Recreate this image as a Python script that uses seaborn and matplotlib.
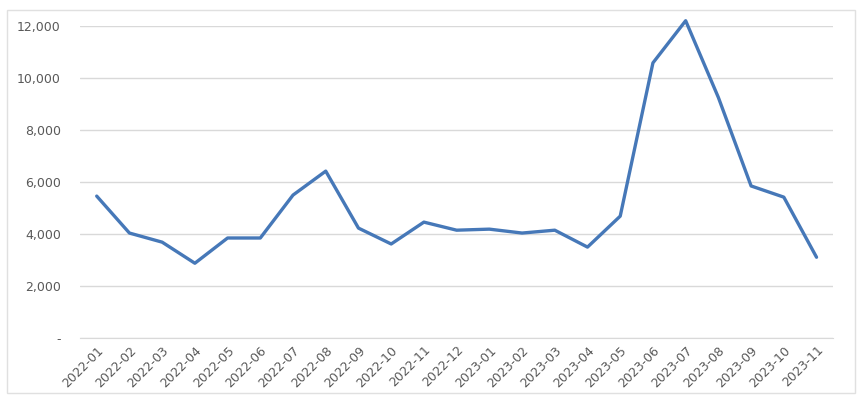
import pandas as pd
import seaborn as sns
import matplotlib.pyplot as plt
from matplotlib.patches import Rectangle
from matplotlib.ticker import FuncFormatter

months = ['2022-01', '2022-02', '2022-03', '2022-04', '2022-05', '2022-06',
          '2022-07', '2022-08', '2022-09', '2022-10', '2022-11', '2022-12',
          '2023-01', '2023-02', '2023-03', '2023-04', '2023-05', '2023-06',
          '2023-07', '2023-08', '2023-09', '2023-10', '2023-11']
values = [5460, 4040, 3690, 2880, 3850, 3850,
          5500, 6420, 4230, 3620, 4460, 4150,
          4190, 4040, 4150, 3500, 4690, 10580,
          12200, 9250, 5850, 5420, 3110]

df = pd.DataFrame({'month': months, 'value': values})

sns.set_style('white')
plt.rcParams['font.family'] = ['DejaVu Sans']

fig = plt.figure(figsize=(8.64, 4.05), dpi=100)
ax = fig.add_axes([0.093, 0.165, 0.871, 0.771])

sns.lineplot(data=df, x='month', y='value', ax=ax, color='#4678b8',
             linewidth=2.4, sort=False, clip_on=False)

ax.set_xlim(-0.5, len(months) - 0.5)
ax.set_ylim(0, 12000)
ax.set_yticks(range(0, 12001, 2000))
ax.yaxis.set_major_formatter(FuncFormatter(lambda v, p: '-' if v == 0 else f'{int(v):,}'))
ax.grid(axis='y', color='#d9d9d9', linewidth=1)
ax.grid(axis='x', visible=False)
for s in ['top', 'right', 'left']:
    ax.spines[s].set_visible(False)
ax.spines['bottom'].set_color('#d9d9d9')
ax.tick_params(axis='both', length=0, colors='#595959', labelsize=9)
ax.tick_params(axis='y', pad=14)
ax.tick_params(axis='x', pad=4)
plt.setp(ax.get_xticklabels(), rotation=45, ha='right', rotation_mode='anchor')
ax.set_xlabel('')
ax.set_ylabel('')

fig.patches.append(Rectangle((0.008, 0.03), 0.982, 0.945, transform=fig.transFigure,
                             fill=False, edgecolor='#e0e0e0', linewidth=1))

fig.savefig('out.png', dpi=100)
